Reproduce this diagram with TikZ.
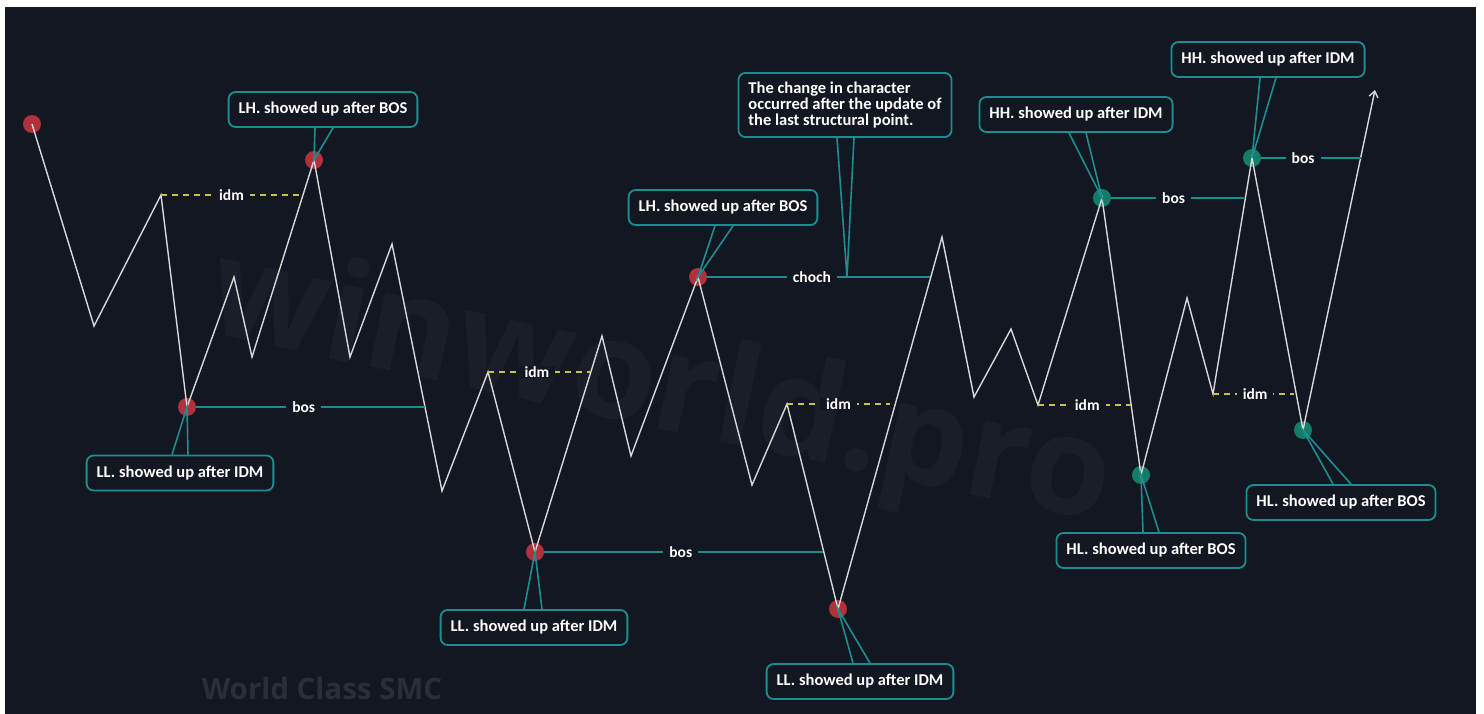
\documentclass[tikz,border=0pt]{standalone}
\usepackage{fontspec}
\setmainfont{Carlito}
\newfontfamily\markfont{Open Sans}
\usetikzlibrary{arrows.meta, positioning, calc}
\definecolor{TV_Bg}{HTML}{131722}
\definecolor{TV_Teal}{HTML}{1B8E90}
\definecolor{TV_Red}{HTML}{B0303C}
\definecolor{TV_Green}{HTML}{147D68}
\definecolor{TV_Gold}{HTML}{C9C24A}
\definecolor{TV_Line}{HTML}{D8D8D8}
\definecolor{TV_Mark}{HTML}{1A1E29}
\definecolor{TV_Sign}{HTML}{2A2E39}

\tikzset{
    swingdot/.style={circle, inner sep=0pt, minimum size=18pt},
    bearishdot/.style={swingdot, fill=TV_Red},
    bullishdot/.style={swingdot, fill=TV_Green},
    swing/.style={TV_Line, line width=1.4pt, line join=miter},
    bosline/.style={TV_Teal, line width=1.8pt},
    idmline/.style={TV_Gold, line width=1.4pt, dash pattern=on 6pt off 5pt},
    levellabel/.style={fill=TV_Bg, text=white, inner xsep=6pt, inner ysep=1pt, font=\fontsize{15.5}{17}\selectfont\bfseries},
    calloutbox/.style={draw=TV_Teal, line width=1.8pt, rounded corners=7pt, fill=TV_Bg, text=white,
        font=\fontsize{16.5}{16}\selectfont\bfseries, inner xsep=10pt, inner ysep=2pt, minimum height=35pt},
    pointer/.style={TV_Teal, line width=1.6pt, line join=miter},
}

\begin{document}
\begin{tikzpicture}[x=1pt, y=-1pt]
    % frame and background
    \fill[white] (0,0) rectangle (1484,714);
    \fill[TV_Bg] (5,7) rectangle (1476,714);
    \useasboundingbox (0,0) rectangle (1484,714);

    % watermarks
    \node[TV_Mark, rotate=-12, font=\markfont\fontsize{138}{138}\selectfont\bfseries] (markweb) at (660,392) {winworld.pro};
    \node[TV_Sign, font=\markfont\fontsize{29.5}{32}\selectfont\bfseries] (marksign) at (322,688) {World Class SMC};

    % swing points
    \path (32,124) coordinate (s0)   (94,326) coordinate (s1)   (161,195) coordinate (s2)
          (187,407) coordinate (s3)  (234,277) coordinate (s4)  (252,357) coordinate (s5)
          (314,160) coordinate (s6)  (350,357) coordinate (s7)  (392,244) coordinate (s8)
          (442,491) coordinate (s9)  (488,372) coordinate (s10) (535,552) coordinate (s11)
          (602,336) coordinate (s12) (631,456) coordinate (s13) (698,277) coordinate (s14)
          (752,485) coordinate (s15) (787,404) coordinate (s16) (838,609) coordinate (s17)
          (942,237) coordinate (s18) (974,397) coordinate (s19) (1011,329) coordinate (s20)
          (1038,405) coordinate (s21) (1102,198) coordinate (s22) (1141,475) coordinate (s23)
          (1187,298) coordinate (s24) (1213,394) coordinate (s25) (1252,158) coordinate (s26)
          (1303,430) coordinate (s27) (1375,90) coordinate (s28);

    % marked extremes
    \node[bearishdot] (top0) at (s0) {};
    \node[bearishdot] (ll1) at (s3) {};
    \node[bearishdot] (lh1) at (s6) {};
    \node[bearishdot] (ll2) at (s11) {};
    \node[bearishdot] (lh2) at (s14) {};
    \node[bearishdot] (ll3) at (s17) {};
    \node[bullishdot] (hh1) at (s22) {};
    \node[bullishdot] (hl1) at (s23) {};
    \node[bullishdot] (hh2) at (s26) {};
    \node[bullishdot] (hl2) at (s27) {};

    % price path
    \draw[swing] (s0) -- (s1) -- (s2) -- (s3) -- (s4) -- (s5) -- (s6) -- (s7) -- (s8) -- (s9)
        -- (s10) -- (s11) -- (s12) -- (s13) -- (s14) -- (s15) -- (s16) -- (s17) -- (s18)
        -- (s19) -- (s20) -- (s21) -- (s22) -- (s23) -- (s24) -- (s25) -- (s26) -- (s27);
    \draw[swing, -{Straight Barb[length=6pt, width=9pt]}] (s27) -- (s28);

    % level ends
    \coordinate (idm1end) at (302,195);
    \coordinate (bos1end) at (425,407);
    \coordinate (idm2end) at (590,372);
    \coordinate (bos2end) at (823,552);
    \coordinate (chochend) at (930,277);
    \coordinate (chochtip) at (847,277);
    \coordinate (idm3end) at (890,404);
    \coordinate (idm4end) at (1131,405);
    \coordinate (bos3end) at (1244,198);
    \coordinate (idm5end) at (1294,394);
    \coordinate (bos4end) at (1361,158);

    % levels
    \draw[idmline] (s2) -- node[levellabel] {idm} (idm1end);
    \draw[bosline] (ll1) -- node[levellabel, pos=0.47] {bos} (bos1end);
    \draw[idmline] (s10) -- node[levellabel, pos=0.48] {idm} (idm2end);
    \draw[bosline] (ll2) -- node[levellabel, pos=0.49] {bos} (bos2end);
    \draw[bosline] (lh2) -- node[levellabel, pos=0.47] {choch} (chochend);
    \draw[idmline] (s16) -- node[levellabel] {idm} (idm3end);
    \draw[idmline] (s21) -- node[levellabel, pos=0.53] {idm} (idm4end);
    \draw[bosline] (hh1) -- node[levellabel, pos=0.47] {bos} (bos3end);
    \draw[idmline] (s25) -- node[levellabel, pos=0.52] {idm} (idm5end);
    \draw[bosline] (hh2) -- node[levellabel, pos=0.42] {bos} (bos4end);

    % callouts
    \node[calloutbox] (lhnote1) at (323,109.5) {LH. showed up after BOS};
    \draw[pointer] ($(lhnote1.south)+(-8,0)$) -- (s6) -- ($(lhnote1.south)+(10,0)$);

    \node[calloutbox] (llnote1) at (180,473) {LL. showed up after IDM};
    \draw[pointer] ($(llnote1.north)+(-8,0)$) -- (s3) -- ($(llnote1.north)+(8,0)$);

    \node[calloutbox] (lhnote2) at (723,207.5) {LH. showed up after BOS};
    \draw[pointer] ($(lhnote2.south)+(-8,0)$) -- (s14) -- ($(lhnote2.south)+(10,0)$);

    \node[calloutbox, align=left, inner ysep=9pt] (chochnote) at (845,105)
        {The change in character\\occurred after the update of\\the last structural point.};
    \draw[pointer] ($(chochnote.south)+(-8,0)$) -- (chochtip) -- ($(chochnote.south)+(9,0)$);

    \node[calloutbox] (llnote2) at (534,627.5) {LL. showed up after IDM};
    \draw[pointer] ($(llnote2.north)+(-10,0)$) -- (s11) -- ($(llnote2.north)+(8,0)$);

    \node[calloutbox] (llnote3) at (860,681.5) {LL. showed up after IDM};
    \draw[pointer] ($(llnote3.north)+(-7,0)$) -- (s17) -- ($(llnote3.north)+(10,0)$);

    \node[calloutbox] (hhnote1) at (1076,114.5) {HH. showed up after IDM};
    \draw[pointer] ($(hhnote1.south)+(-7,0)$) -- (s22) -- ($(hhnote1.south)+(10,0)$);

    \node[calloutbox] (hhnote2) at (1268,59.5) {HH. showed up after IDM};
    \draw[pointer] ($(hhnote2.south)+(-8,0)$) -- (s26) -- ($(hhnote2.south)+(8,0)$);

    \node[calloutbox] (hlnote1) at (1151,550.5) {HL. showed up after BOS};
    \draw[pointer] ($(hlnote1.north)+(-8,0)$) -- (s23) -- ($(hlnote1.north)+(8,0)$);

    \node[calloutbox] (hlnote2) at (1341,502.5) {HL. showed up after BOS};
    \draw[pointer] ($(hlnote2.north)+(-8,0)$) -- (s27) -- ($(hlnote2.north)+(10,0)$);
\end{tikzpicture}
\end{document}
